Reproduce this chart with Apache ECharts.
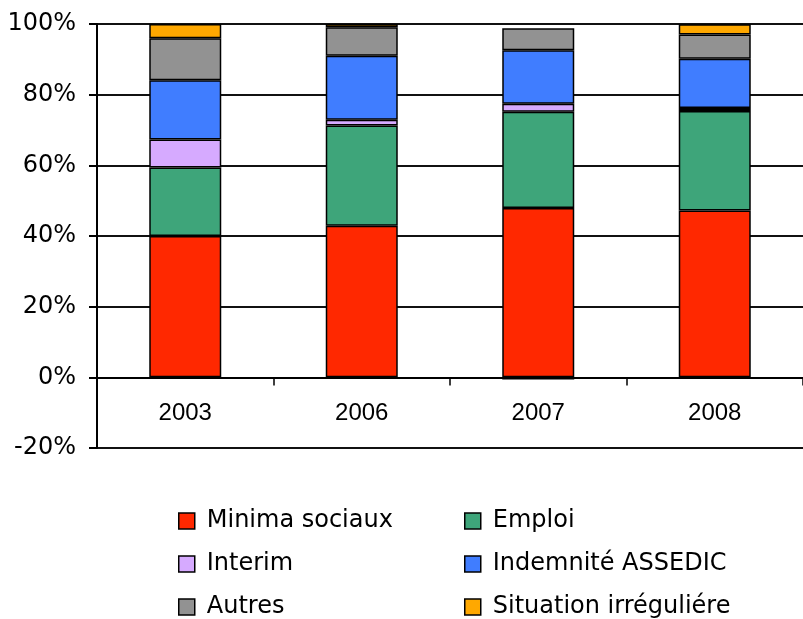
<!DOCTYPE html>
<html>
<head>
    <meta charset="utf-8" />
    <title>Situation des allocataires</title>
    <script src="https://cdn.jsdelivr.net/npm/echarts@6/dist/echarts.min.js"></script>
    <style>
        html, body { margin: 0; padding: 0; background: #fff; }
        #chart { width: 803px; height: 619px; }
    </style>
</head>
<body>
    <div id="chart"></div>
    <script type="text/javascript">
        // data (percent of each year)
        var years = ['2003', '2006', '2007', '2008'];
        var minimaSociaux = [40.0, 42.9, 47.9, 47.2];
        var emploi = [19.4, 28.4, 27.3, 28.2];
        var interim = [7.9, 1.6, 2.2, 0.8];
        var assedic = [16.8, 18.1, 15.2, 14.0];
        var autres = [11.9, 8.1, 6.2, 6.8];
        var situation = [4.0, 0.9, -0.6, 2.9];

        var seriesNames = ['Minima sociaux', 'Emploi', 'Interim', 'Indemnité ASSEDIC', 'Autres', 'Situation irréguliére'];
        var seriesData = [minimaSociaux, emploi, interim, assedic, autres, situation];
        var colors = ['#ff2800', '#3ea57a', '#d6aaff', '#407dff', '#929292', '#ffa800'];

        var chart = echarts.init(document.getElementById('chart'));

        var legendBase = {
            orient: 'vertical',
            top: 509,
            padding: 0,
            itemWidth: 16,
            itemHeight: 16,
            itemGap: 19,
            icon: 'rect',
            itemStyle: { borderColor: '#000', borderWidth: 1.5 },
            textStyle: {
                fontFamily: 'DejaVu Sans',
                fontSize: 24,
                lineHeight: 24,
                color: '#000',
                padding: [0, 0, 0, 7]
            }
        };

        var option = {
            animation: false,
            color: colors,
            grid: {
                left: 97,
                width: 712,
                top: 24,
                bottom: 171,
                containLabel: false
            },
            legend: [
                Object.assign({}, legendBase, { left: 178, data: ['Minima sociaux', 'Interim', 'Autres'] }),
                Object.assign({}, legendBase, { left: 464, data: ['Emploi', 'Indemnité ASSEDIC', 'Situation irréguliére'] })
            ],
            xAxis: {
                type: 'category',
                data: years,
                position: 'bottom',
                offset: -70.5,   // sits on the 0% line
                axisLine: { onZero: false, lineStyle: { color: '#000', width: 2 } },
                axisTick: { show: true, length: 8, lineStyle: { color: '#000', width: 1.5 } },
                axisLabel: {
                    margin: 24,
                    color: '#000',
                    fontFamily: 'Liberation Sans',
                    fontSize: 24
                }
            },
            yAxis: {
                type: 'value',
                min: -20,
                max: 100,
                interval: 20,
                axisLine: { show: true, lineStyle: { color: '#000', width: 2 } },
                axisTick: { show: true, length: 8, lineStyle: { color: '#000', width: 2 } },
                axisLabel: {
                    formatter: '{value}%',
                    margin: 21,
                    color: '#000',
                    fontFamily: 'DejaVu Sans',
                    fontSize: 24
                },
                splitLine: { show: true, lineStyle: { color: '#111', width: 2 } }
            },
            series: seriesNames.map(function (name, i) {
                return {
                    name: name,
                    type: 'bar',
                    stack: 'total',
                    barWidth: 72,
                    itemStyle: { color: colors[i], borderColor: '#000', borderWidth: 1.5 },
                    data: seriesData[i]
                };
            })
        };

        chart.setOption(option);
    </script>
</body>
</html>
